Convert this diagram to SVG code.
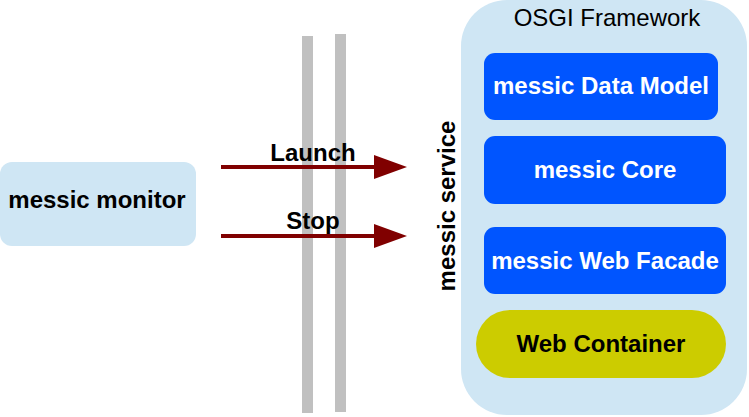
<svg xmlns="http://www.w3.org/2000/svg" width="749" height="417" viewBox="0 0 749 417">
<style>
text{font-family:"Liberation Sans",Arial,sans-serif;font-size:24px;text-anchor:middle}
.b{font-weight:bold}
.w{fill:#ffffff}
.k{fill:#000000}
.light{fill:#cfe6f4}
.blue{fill:#0055ff}
.bar{fill:#c0c0c0}
.conn{stroke:#800000;stroke-width:4;fill:none}
</style>
<defs>
<marker id="ah" markerUnits="userSpaceOnUse" markerWidth="34" markerHeight="24" refX="7" refY="12" orient="auto">
<path d="M0,0 L33,12 L0,24 Z" fill="#800000"/>
</marker>
</defs>
<rect class="bar" x="302" y="36" width="11" height="377"/>
<rect class="bar" x="335" y="34" width="11" height="378"/>
<g id="osgi">
<rect class="light" x="461" y="0" width="286" height="415" rx="46" ry="46"/>
<text x="607" y="26">OSGI Framework</text>
</g>
<g id="monitor">
<rect class="light" x="0" y="162" width="196" height="84" rx="12"/>
<text class="b" x="97" y="208">messic monitor</text>
</g>
<g id="service">
<text class="b" transform="translate(455,206) rotate(-90)" x="0" y="0">messic service</text>
</g>
<g id="datamodel">
<rect class="blue" x="484" y="53" width="234" height="67" rx="11"/>
<text class="b w" x="601" y="94">messic Data Model</text>
</g>
<g id="core">
<rect class="blue" x="484" y="136" width="242" height="68" rx="11"/>
<text class="b w" x="605" y="178">messic Core</text>
</g>
<g id="facade">
<rect class="blue" x="484" y="227" width="242" height="67" rx="11"/>
<text class="b w" x="605" y="269">messic Web Facade</text>
</g>
<g id="container">
<rect x="476" y="310" width="250" height="68" rx="34" fill="#cccc00"/>
<text class="b" x="601" y="352">Web Container</text>
</g>
<g id="connectors">
<line class="conn" x1="221" y1="167" x2="381" y2="167" marker-end="url(#ah)"/>
<text class="b" x="313" y="161">Launch</text>
<line class="conn" x1="221" y1="236" x2="381" y2="236" marker-end="url(#ah)"/>
<text class="b" x="313" y="229">Stop</text>
</g>
</svg>
